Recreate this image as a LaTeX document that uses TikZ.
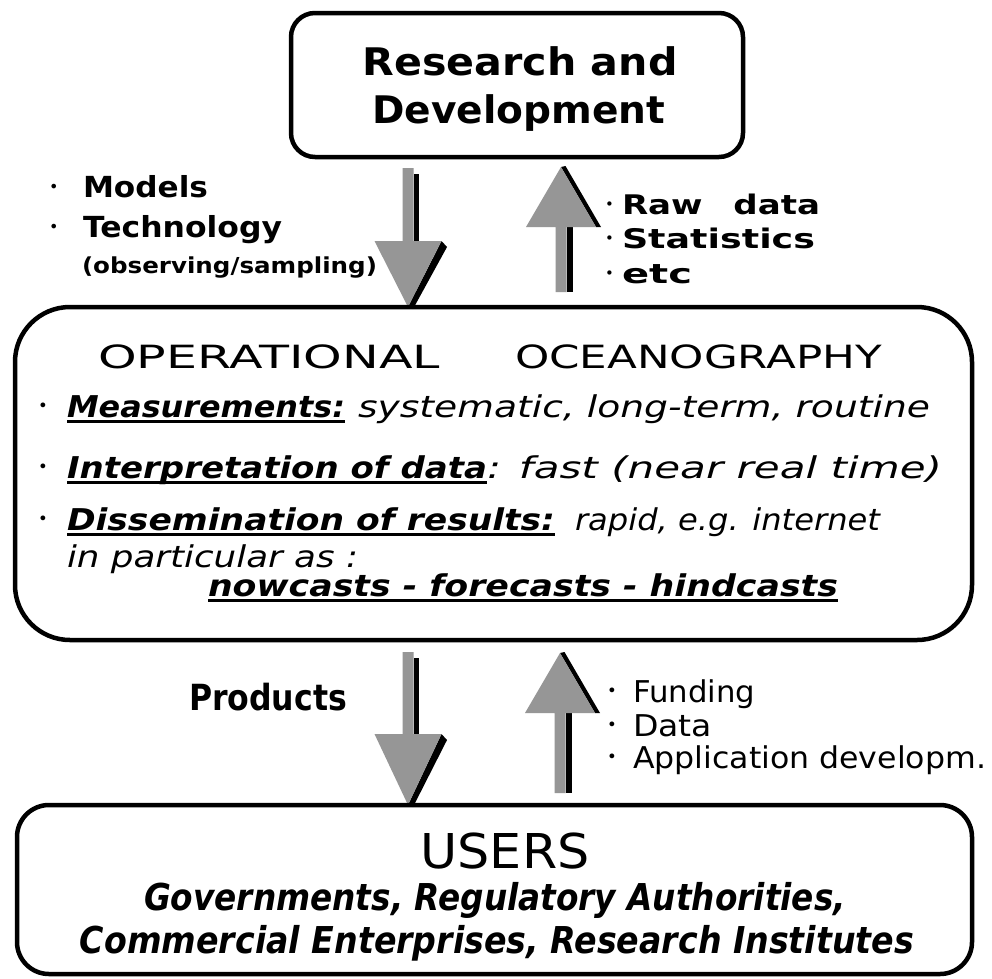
\documentclass[tikz,border=0pt]{standalone}
\usepackage{graphicx}
\usepackage{fontspec}
\setmainfont{DejaVu Sans}[BoldFont={DejaVu Sans Bold},ItalicFont={DejaVu Sans Oblique},BoldItalicFont={DejaVu Sans Bold Oblique}]
\usetikzlibrary{calc}
\pgfdeclarelayer{bg}
\pgfsetlayers{bg,main}
\definecolor{arrgray}{RGB}{150,150,150}
\newcommand\fitw[2]{\resizebox{#1pt}{\height}{#2}}
\newcommand\ulw[1]{\setbox0=\hbox{#1}\rlap{\rule[-5.5pt]{\wd0}{2.6pt}}\box0}
\newcommand\fsz[1]{\fontsize{#1}{#1}\selectfont}
\newcommand\bdot[1]{\makebox[#1pt][l]{\raisebox{0.17em}{\scalebox{0.55}{\normalfont •}}}}
\newcommand\downarrowsh[3]{%
  \fill[black] ($(#1)+(5.5,6)$) rectangle ($(#2)+(11,-#3)$);
  \fill[black] ($(#2)+(33.5,-#3)$) -- ($(#2)+(39,-#3+6)$) -- ($(#2)+(5,2)$) -- (#2) -- cycle;
  \fill[arrgray] ($(#1)+(-5.5,0)$) -- ($(#1)+(5.5,0)$) -- ($(#2)+(5.5,-#3)$) -- ($(#2)+(33.5,-#3)$) -- (#2) -- ($(#2)+(-33.5,-#3)$) -- ($(#2)+(-5.5,-#3)$) -- cycle;
}
\newcommand\uparrowsh[3]{%
  \fill[black] ($(#2)+(5.5,#3)$) rectangle ($(#1)+(11.5,0)$);
  \fill[black] (#2) -- ($(#2)+(4.5,-1)$) -- ($(#2)+(40,#3)$) -- ($(#2)+(35,#3)$) -- cycle;
  \fill[arrgray] ($(#1)+(-5.5,0)$) -- ($(#1)+(5.5,0)$) -- ($(#2)+(5.5,#3)$) -- ($(#2)+(35,#3)$) -- (#2) -- ($(#2)+(-35,#3)$) -- ($(#2)+(-5.5,#3)$) -- cycle;
}
\begin{document}
\begin{tikzpicture}[x=1pt,y=-1pt,
  box/.style={draw=black, line width=4.5pt, inner sep=0pt, outer sep=0pt},
  txt/.style={inner sep=0pt, outer sep=0pt, anchor=base west, text=black},
  ctxt/.style={inner sep=0pt, outer sep=0pt, anchor=base, text=black}]
\useasboundingbox (0,0) rectangle (992,978);

% boxes
\node[box, rounded corners=24pt, minimum width=452pt, minimum height=144pt] (rd) at (517,85) {};
\node[box, rounded corners=55pt, minimum width=957pt, minimum height=333pt] (oo) at (493.5,473.5) {};
\node[box, rounded corners=32pt, minimum width=955pt, minimum height=169pt] (us) at (494.5,889.5) {};

% arrow end points
\coordinate (d1s) at ($(rd.south)+(-109,11)$);
\coordinate (d1t) at (d1s |- oo.north);
\coordinate (u1t) at ($(rd.south)+(44,10)$);
\coordinate (u1b) at ($(oo.north)+(67.5,-15)$);
\coordinate (d2s) at ($(oo.south)+(-85.5,12)$);
\coordinate (d2t) at (d2s |- us.north);
\coordinate (u2t) at ($(oo.south)+(66.5,13)$);
\coordinate (u2b) at ($(us.north)+(65.5,-12)$);

\begin{pgfonlayer}{bg}
  \fill[white] (0,0) rectangle (992,978);
  \downarrowsh{d1s}{d1t}{66}
  \uparrowsh{u1b}{u1t}{60}
  \downarrowsh{d2s}{d2t}{71}
  \uparrowsh{u2b}{u2t}{60}
\end{pgfonlayer}

% Research and Development
\node[ctxt] (rdA) at (520,75) {\fsz{38}\bfseries\fitw{315}{Research and}};
\node[ctxt] (rdB) at (519,123) {\fsz{38}\bfseries\fitw{293}{Development}};

% left labels
\node[txt] (lm) at (49,197) {\fsz{29}\bfseries\bdot{34}\fitw{125}{Models}};
\node[txt] (lt) at (49,237) {\fsz{29}\bfseries\bdot{34}\fitw{199}{Technology}};
\node[txt] (lo) at (82,273) {\fsz{22}\bfseries\fitw{295}{(observing/sampling)}};

% right labels
\node[txt] (rr) at (605,214) {\fsz{27}\bfseries\bdot{17}\fitw{198}{Raw\hspace{0.9em}data}};
\node[txt] (rs) at (605,248) {\fsz{27}\bfseries\bdot{17}\fitw{193}{Statistics}};
\node[txt] (re) at (605,283) {\fsz{27}\bfseries\bdot{17}\fitw{70}{etc}};

% operational oceanography
\node[txt] (ot1) at (98,368) {\fsz{32}\fitw{342}{OPERATIONAL}};
\node[txt] (ot2) at (515,368) {\fsz{32}\fitw{367}{OCEANOGRAPHY}};
\node[txt] (m1) at (38,417) {\fsz{30}\bdot{29}\fitw{278}{\bfseries\itshape\ulw{Measurements:}}\hspace{13pt}\fitw{572}{\itshape systematic, long-term, routine}};
\node[txt] (m2) at (38,478) {\fsz{30}\bdot{29}\fitw{420}{\bfseries\itshape\ulw{Interpretation of data}}\fitw{455}{\itshape : fast (near real time)}};
\node[txt] (m3) at (38,530) {\fsz{30}\bdot{29}\fitw{488}{\bfseries\itshape\ulw{Dissemination of results:}}\hspace{20pt}\fitw{305}{\itshape rapid, e.g. internet}};
\node[txt] (m4) at (67,567) {\fsz{30}\itshape\fitw{291}{in particular as :}};
\node[txt] (m5) at (208,596) {\fsz{30}\bfseries\itshape\fitw{630}{\ulw{nowcasts - forecasts - hindcasts}}};

% lower labels
\node[txt] (pr) at (189,710) {\fsz{36}\bfseries\fitw{158}{Products}};
\node[txt] (fu) at (607,702) {\fsz{30}\bdot{26}\fitw{122}{Funding}};
\node[txt] (da) at (607,736) {\fsz{30}\bdot{26}\fitw{79}{Data}};
\node[txt] (ap) at (607,768) {\fsz{30}\bdot{26}\fitw{353}{Application developm.}};

% users
\node[ctxt] (ut) at (505,868) {\fsz{48}\fitw{169}{USERS}};
\node[ctxt] (u1) at (495,910) {\fsz{37}\bfseries\itshape\fitw{702}{Governments, Regulatory Authorities,}};
\node[ctxt] (u2) at (497,953) {\fsz{37}\bfseries\itshape\fitw{834}{Commercial Enterprises, Research Institutes}};
\end{tikzpicture}
\end{document}
